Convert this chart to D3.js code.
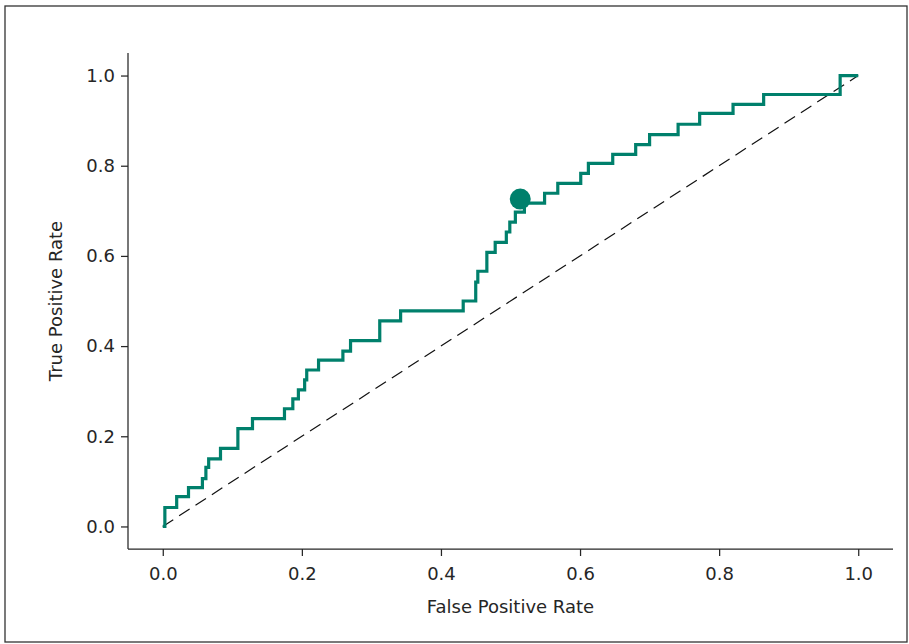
<!DOCTYPE html>
<html>
<head>
<meta charset="utf-8">
<script src="https://cdn.jsdelivr.net/npm/d3@7"></script>
<style>
  body { margin: 0; background: #fff; }
  svg text { font-family: "DejaVu Sans", sans-serif; fill: #262626; }
</style>
</head>
<body>
<svg id="roc"></svg>
<script>
// ROC step points: at each fpr value the curve jumps up to the given tpr
const fpr = [0.0, 0.003, 0.020, 0.037, 0.057, 0.062, 0.066, 0.083, 0.108, 0.129,
  0.175, 0.187, 0.195, 0.204, 0.207, 0.224, 0.259, 0.270, 0.312, 0.342,
  0.432, 0.450, 0.453, 0.466, 0.478, 0.494, 0.499, 0.507, 0.520, 0.549,
  0.568, 0.601, 0.612, 0.647, 0.680, 0.700, 0.741, 0.772, 0.820, 0.864,
  0.974, 1.0];
const tpr = [0.0, 0.042, 0.066, 0.086, 0.106, 0.131, 0.150, 0.173, 0.217, 0.239,
  0.261, 0.283, 0.303, 0.325, 0.347, 0.369, 0.389, 0.412, 0.456, 0.478,
  0.500, 0.542, 0.566, 0.608, 0.630, 0.653, 0.675, 0.697, 0.717, 0.739,
  0.761, 0.783, 0.805, 0.825, 0.847, 0.869, 0.892, 0.916, 0.936, 0.958,
  1.0, 1.0];
const optimalPoint = { fpr: 0.514, tpr: 0.726 };
const ticks = [0.0, 0.2, 0.4, 0.6, 0.8, 1.0];
const xLabelText = 'False Positive Rate';
const yLabelText = 'True Positive Rate';

const width = 909, height = 644;
const margin = { left: 128, right: 16, top: 53, bottom: 95 };
const color = '#00806c';
const fontSize = 18;

const svg = d3.select('#roc')
  .attr('width', width)
  .attr('height', height);

// outer frame
svg.append('rect')
  .attr('x', 5).attr('y', 6)
  .attr('width', 902).attr('height', 636)
  .attr('fill', 'none')
  .attr('stroke', '#333')
  .attr('stroke-width', 1.3);

const xScale = d3.scaleLinear()
  .domain([-0.05, 1.05])
  .range([margin.left, width - margin.right]);
const yScale = d3.scaleLinear()
  .domain([-0.05, 1.05])
  .range([height - margin.bottom, margin.top]);

// axes
const xAxis = d3.axisBottom(xScale).tickValues(ticks).tickFormat(d3.format('.1f')).tickSize(7).tickPadding(11);
const yAxis = d3.axisLeft(yScale).tickValues(ticks).tickFormat(d3.format('.1f')).tickSize(7).tickPadding(6);

svg.append('g')
  .attr('class', 'x-axis')
  .attr('transform', `translate(0,${height - margin.bottom})`)
  .call(xAxis);
svg.append('g')
  .attr('class', 'y-axis')
  .attr('transform', `translate(${margin.left},0)`)
  .call(yAxis);

// spines span the whole padded range
svg.select('.x-axis path').attr('d', `M${margin.left},0H${width - margin.right}`);
svg.select('.y-axis path').attr('d', `M0,${margin.top}V${height - margin.bottom}`);
svg.selectAll('.x-axis path, .y-axis path')
  .attr('stroke', '#262626')
  .attr('stroke-width', 1.25);
svg.selectAll('.tick line').attr('stroke', '#262626').attr('stroke-width', 1.25);
svg.selectAll('.tick text')
  .attr('font-size', fontSize)
  .attr('font-family', '"DejaVu Sans", sans-serif')
  .attr('fill', '#262626');

// labels
svg.append('text')
  .attr('x', xScale(0.5))
  .attr('y', 613)
  .attr('text-anchor', 'middle')
  .attr('font-size', fontSize)
  .text(xLabelText);
svg.append('text')
  .attr('transform', `translate(62,${yScale(0.5)}) rotate(-90)`)
  .attr('text-anchor', 'middle')
  .attr('font-size', fontSize)
  .text(yLabelText);

// chance diagonal
svg.append('line')
  .attr('x1', xScale(0)).attr('y1', yScale(0))
  .attr('x2', xScale(1)).attr('y2', yScale(1))
  .attr('stroke', '#111')
  .attr('stroke-width', 1.2)
  .attr('stroke-dasharray', '12.5,7');

// ROC curve
const points = fpr.map((f, i) => [f, tpr[i]]);
const line = d3.line()
  .x(d => xScale(d[0]))
  .y(d => yScale(d[1]))
  .curve(d3.curveStepAfter);
svg.append('path')
  .datum(points)
  .attr('d', line)
  .attr('fill', 'none')
  .attr('stroke', color)
  .attr('stroke-width', 3.2);

// optimal threshold marker
svg.append('circle')
  .attr('cx', xScale(optimalPoint.fpr))
  .attr('cy', yScale(optimalPoint.tpr))
  .attr('r', 10.5)
  .attr('fill', color);
</script>
</body>
</html>
